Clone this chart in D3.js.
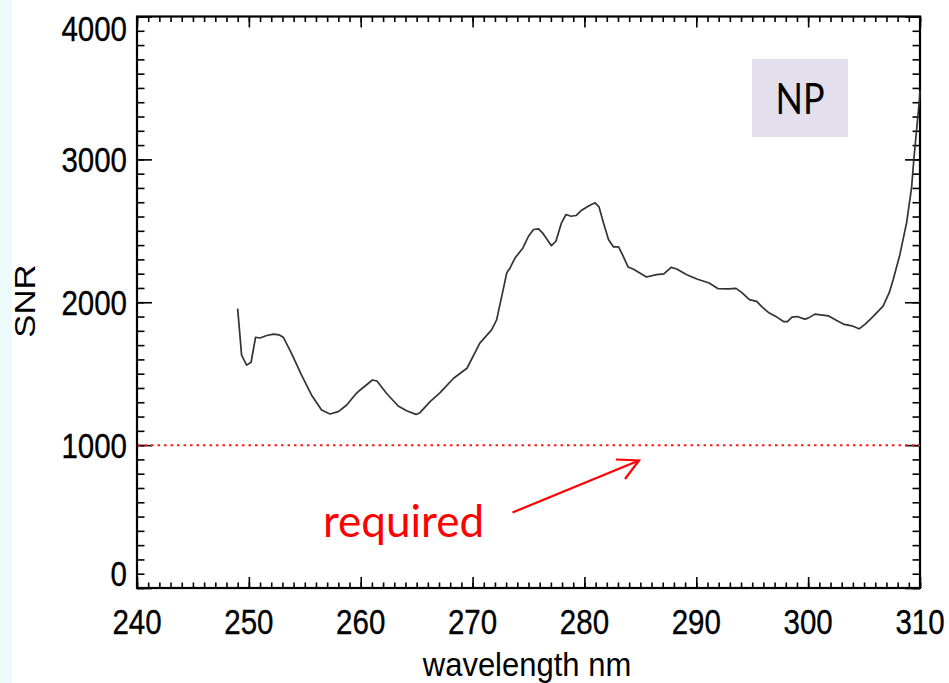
<!DOCTYPE html>
<html>
<head>
<meta charset="utf-8">
<script src="https://cdn.jsdelivr.net/npm/d3@7"></script>
<style>
  html, body { margin: 0; padding: 0; background: #ffffff; }
  svg { display: block; }
</style>
</head>
<body>
<svg id="chart" width="949" height="683"></svg>
<script>
// Wavelength sampling (nm) and measured signal-to-noise ratio
const wavelength = [
  249.0, 249.35, 249.8, 250.2, 250.6, 251.0, 251.6, 252.2, 252.7, 253.1,
  253.8, 254.7, 255.6, 256.5, 257.25, 258.0, 258.75, 259.5, 259.95, 260.5,
  261.05, 261.45, 262.3, 263.35, 264.1, 264.95, 265.3, 266.2, 267.1, 268.3,
  269.5, 270.65, 271.7, 272.15, 272.8, 273.05, 273.35, 273.8, 274.5, 275.0,
  275.45, 275.9, 276.25, 277.05, 277.45, 277.95, 278.35, 278.8, 279.25, 279.75,
  280.45, 280.95, 281.3, 281.7, 282.15, 282.6, 283.05, 283.4, 283.9, 284.35,
  285.55, 286.45, 287.1, 287.75, 288.25, 289.15, 290.05, 291.15, 291.95, 292.85,
  293.55, 294.05, 294.75, 295.4, 295.85, 296.45, 297.2, 297.8, 298.15, 298.55,
  299.0, 299.7, 300.0, 300.6, 301.8, 302.55, 303.15, 303.9, 304.55, 305.1,
  305.8, 306.7, 307.25, 307.6, 308.2, 308.8, 309.25, 309.45, 309.7, 309.95,
  310.0
];
const snr = [
  1955, 1630, 1560, 1580, 1755, 1750, 1767, 1777, 1772, 1753,
  1644, 1491, 1351, 1246, 1218, 1234, 1281, 1353, 1386, 1421,
  1456, 1449, 1363, 1274, 1241, 1215, 1227, 1304, 1367, 1468,
  1538, 1714, 1807, 1877, 2111, 2205, 2240, 2310, 2380, 2462,
  2509, 2514, 2486, 2396, 2427, 2556, 2614, 2602, 2607, 2644,
  2677, 2696, 2668, 2556, 2439, 2387, 2387, 2333, 2247, 2233,
  2177, 2193, 2198, 2244, 2233, 2193, 2163, 2135, 2095, 2093,
  2097, 2069, 2018, 2006, 1970, 1929, 1896, 1865, 1865, 1896,
  1900, 1882, 1889, 1917, 1905, 1872, 1847, 1835, 1814, 1847,
  1900, 1973, 2067, 2158, 2333, 2556, 2804, 3000, 3211, 3421,
  3480
];

const xTicks = [240, 250, 260, 270, 280, 290, 300, 310];
const yTicks = [0, 1000, 2000, 3000, 4000];
const requiredLevel = 1000;
const requiredLabel = "required";
const panelTag = "NP";
const xTitle = "wavelength nm";
const yTitle = "SNR";

const svg = d3.select("#chart");
const W = 949, H = 683;
const plot = { left: 137, right: 920, top: 16.5, bottom: 588 };
const stretch = 1.2;   // tall, narrow lettering

const x = d3.scaleLinear().domain([240, 310]).range([plot.left, plot.right]);
const y = d3.scaleLinear().domain([0, 4000]).range([plot.bottom, plot.top]);

// pale strip along the left edge of the slide
svg.append("rect").attr("x", 0).attr("y", 0).attr("width", 12).attr("height", H)
  .attr("fill", "#eefbfd");

// inward-pointing ticks on all four sides
const xMinor = d3.range(240, 311, 1);
const yMinor = d3.range(0, 4001, 100);

function tickAxis(gen, transform) {
  const g = svg.append("g").attr("transform", transform).call(gen);
  g.select(".domain").remove();
  g.selectAll("line").attr("stroke", "#000").attr("stroke-width", 1.6);
  g.selectAll("text").remove();
  return g;
}
tickAxis(d3.axisBottom(x).tickValues(xMinor).tickSize(-5.5), `translate(0,${plot.bottom})`);
tickAxis(d3.axisBottom(x).tickValues(xTicks).tickSize(-11), `translate(0,${plot.bottom})`);
tickAxis(d3.axisTop(x).tickValues(xMinor).tickSize(-5.5), `translate(0,${plot.top})`);
tickAxis(d3.axisTop(x).tickValues(xTicks).tickSize(-11), `translate(0,${plot.top})`);
tickAxis(d3.axisLeft(y).tickValues(yMinor).tickSize(-7.5), `translate(${plot.left},0)`);
tickAxis(d3.axisLeft(y).tickValues(yTicks).tickSize(-15), `translate(${plot.left},0)`);
tickAxis(d3.axisRight(y).tickValues(yMinor).tickSize(-7.5), `translate(${plot.right},0)`);
tickAxis(d3.axisRight(y).tickValues(yTicks).tickSize(-15), `translate(${plot.right},0)`);

// frame
svg.append("rect")
  .attr("x", plot.left).attr("y", plot.top)
  .attr("width", plot.right - plot.left).attr("height", plot.bottom - plot.top)
  .attr("fill", "none").attr("stroke", "#000").attr("stroke-width", 2.2);

// tick labels
const tickFont = "Liberation Sans, Arial, sans-serif";
svg.append("g").selectAll("text").data(yTicks).join("text")
  .attr("transform", d => {
    let ty = y(d);
    if (d === 0) ty -= 15;
    if (d === 4000) ty += 11.5;
    return `translate(127,${ty}) scale(1,${stretch})`;
  })
  .attr("dy", "0.36em")
  .attr("text-anchor", "end")
  .attr("font-family", tickFont).attr("font-size", 29.5).attr("fill", "#000")
  .attr("stroke", "#000").attr("stroke-width", 0.3)
  .text(d => d);

svg.append("g").selectAll("text").data(xTicks).join("text")
  .attr("transform", d => `translate(${x(d)},621.5) scale(1,${stretch})`)
  .attr("dy", "0.36em")
  .attr("text-anchor", "middle")
  .attr("font-family", tickFont).attr("font-size", 29.5).attr("fill", "#000")
  .attr("stroke", "#000").attr("stroke-width", 0.3)
  .text(d => d);

// axis titles
svg.append("text")
  .attr("transform", `translate(527,664) scale(1,1.1)`)
  .attr("dy", "0.36em").attr("text-anchor", "middle")
  .attr("font-family", tickFont).attr("font-size", 31).attr("fill", "#000")
  .text(xTitle);

svg.append("text")
  .attr("transform", `translate(25,301) rotate(-90) scale(${stretch},1)`)
  .attr("dy", "0.36em").attr("text-anchor", "middle")
  .attr("font-family", tickFont).attr("font-size", 29).attr("fill", "#000")
  .text(yTitle);

// required SNR threshold
svg.append("line")
  .attr("x1", plot.left + 1).attr("x2", plot.right)
  .attr("y1", y(requiredLevel)).attr("y2", y(requiredLevel))
  .attr("stroke", "#ff1a1a").attr("stroke-width", 2)
  .attr("stroke-dasharray", "2.5,4");

// SNR curve
const line = d3.line().x((d, i) => x(wavelength[i])).y(d => y(d));
svg.append("path")
  .datum(snr)
  .attr("d", line)
  .attr("fill", "none")
  .attr("stroke", "#333")
  .attr("stroke-width", 1.7)
  .attr("stroke-linejoin", "round");

// annotation: label with arrow pointing at the threshold
const red = "#ff0000";
svg.append("text")
  .attr("x", 323).attr("y", 537)
  .attr("font-family", "Lato, Open Sans, sans-serif").attr("font-size", 44)
  .attr("fill", red)
  .text(requiredLabel);

const tail = [512.5, 512.5], tip = [639, 460.5];
svg.append("line")
  .attr("x1", tail[0]).attr("y1", tail[1]).attr("x2", tip[0]).attr("y2", tip[1])
  .attr("stroke", red).attr("stroke-width", 2.2);
svg.append("path")
  .attr("d", `M616,459.5 L${tip[0]},${tip[1]} L625,479`)
  .attr("fill", "none").attr("stroke", red).attr("stroke-width", 2.2)
  .attr("stroke-linejoin", "miter");

// panel tag
svg.append("rect").attr("x", 752).attr("y", 59).attr("width", 96).attr("height", 78)
  .attr("fill", "#e3dfec");
svg.append("text")
  .attr("transform", `translate(800,114) scale(1,${stretch})`)
  .attr("text-anchor", "middle")
  .attr("font-family", "Lato, Open Sans, sans-serif").attr("font-size", 36)
  .attr("fill", "#000")
  .text(panelTag);
</script>
</body>
</html>
